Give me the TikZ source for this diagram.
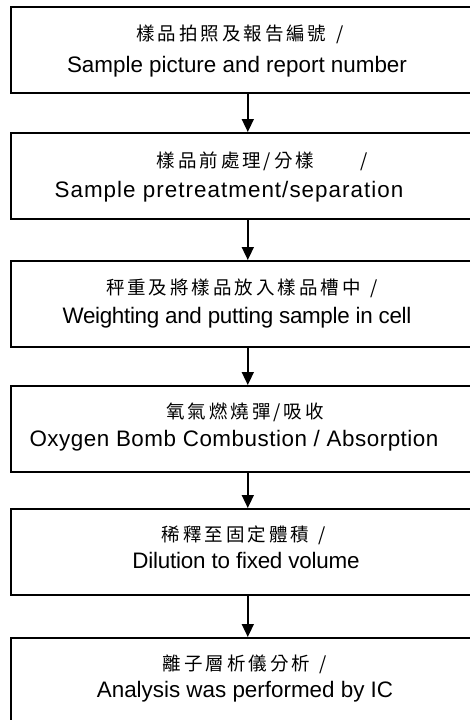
\documentclass[tikz,border=0pt]{standalone}
\usepackage{fontspec}
\setmainfont{Liberation Sans}
\newfontfamily\cjk[LetterSpace=16]{Noto Sans CJK TC}
\usetikzlibrary{arrows.meta}
\newcommand{\entxt}{\fontsize{22.4pt}{26pt}\selectfont}
\newcommand{\zhtxt}{\cjk\fontsize{18.5pt}{22pt}\selectfont}
\newcommand{\gap}{\hspace{10pt}}
\tikzset{
  stepbox/.style={draw=black, line width=1.6pt, minimum width=474pt, minimum height=86pt,
    anchor=north west, inner sep=0pt},
  zhtext/.style={anchor=center, inner sep=0pt, font=\zhtxt},
  entext/.style={anchor=base, inner sep=0pt, font=\entxt},
  spread/.style={font={\entxt\addfontfeature{LetterSpace=#1}}},
  flow/.style={line width=1.6pt, -{Triangle[width=12pt,length=13pt]}}
}
\begin{document}
\begin{tikzpicture}[x=1pt,y=-1pt]
\useasboundingbox (0,0) rectangle (470,720);
\clip (0,0) rectangle (470,720);
\node[stepbox] (b1) at (10,6) {};
\node[stepbox] (b2) at (10,132) {};
\node[stepbox] (b3) at (10,260) {};
\node[stepbox] (b4) at (10,385) {};
\node[stepbox] (b5) at (10,508) {};
\node[stepbox] (b6) at (10,637) {};
\node[zhtext] (z1) at (240,34) {樣品拍照及報告編號\gap/};
\node[entext] (e1) at (237,72) {Sample picture and report number};
\node[zhtext] (z2) at (262,161) {樣品前處理/分樣\hspace{46pt}/};
\node[entext, spread=4.6] (e2) at (229,197) {Sample pretreatment/separation};
\node[zhtext] (z3) at (242,288) {秤重及將樣品放入樣品槽中\gap/};
\node[entext, spread=-1.4] (e3) at (237,323) {Weighting and putting sample in cell};
\node[zhtext] (z4) at (245,412) {氧氣燃燒彈/吸收};
\node[entext, spread=2.3] (e4) at (234,446) {Oxygen Bomb Combustion / Absorption};
\node[zhtext] (z5) at (244,535) {稀釋至固定體積\gap/};
\node[entext, spread=-1] (e5) at (246,568) {Dilution to fixed volume};
\node[zhtext] (z6) at (245,664) {離子層析儀分析\gap/};
\node[entext] (e6) at (245,697) {Analysis was performed by IC};
\draw[flow] (b1.south) -- (b2.north);
\draw[flow] (b2.south) -- (b3.north);
\draw[flow] (b3.south) -- (b4.north);
\draw[flow] (b4.south) -- (b5.north);
\draw[flow] (b5.south) -- (b6.north);
\end{tikzpicture}
\end{document}
